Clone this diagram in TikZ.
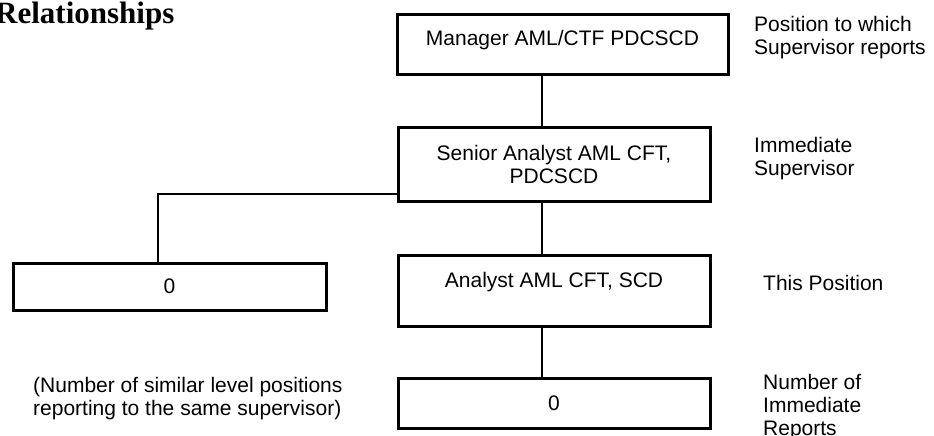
\documentclass[tikz,border=0pt]{standalone}
\usepackage{fontspec}
\setmainfont{Liberation Serif}
\newfontfamily\arialfont{Liberation Sans}
\usepackage{xcolor}
\usepackage{tikz}
\usetikzlibrary{positioning,calc}

\begin{document}
\begin{tikzpicture}[x=1pt, y=-1pt,
    posbox/.style={draw, line width=3pt, inner sep=0pt, font=\arialfont\fontsize{21}{23}\selectfont},
    toptext/.style={anchor=north, text height=31.5pt, text depth=#1},
    sidenote/.style={anchor=north west, align=left, inner sep=0pt, font=\arialfont\fontsize{21}{23}\selectfont},
    link/.style={line width=2.6pt}]
        \useasboundingbox (0,0) rectangle (934,436);
        \clip (0,0) rectangle (934,436);
        \node[anchor=base west, inner sep=0pt, font=\bfseries\fontsize{31}{35}\selectfont] (title) at (-5,24) {Relationships};

        % Chain of boxes
        \node[posbox, toptext=28.5pt, minimum width=331pt] (mgr) at (562.5,13) {Manager AML/CTF PDCSCD};
        \node[posbox, align=center, minimum width=312pt, minimum height=74pt] (sup) at (554,164) {Senior Analyst AML CFT,\\PDCSCD};
        \node[posbox, toptext=39.5pt, minimum width=312pt] (pos) at (554,254) {Analyst AML CFT, SCD};
        \node[posbox, minimum width=312pt, minimum height=50pt] (reps) at (554,403) {0};
        \node[posbox, minimum width=313pt, minimum height=47pt] (peer) at (169.5,286.5) {0};

        % Connectors
        \coordinate (spine) at (542,0);
        \coordinate (peertap) at (158,194);
        \draw[link] (mgr.south -| spine) -- (sup.north -| spine);
        \draw[link] (sup.south -| spine) -- (pos.north -| spine);
        \draw[link] (pos.south -| spine) -- (reps.north -| spine);
        \draw[link] (sup.west |- peertap) -- (peertap) -- (peertap |- peer.north);

        % Notes on the right
        \node[sidenote] (notemgr) at (754,16.5) {Position to which\\Supervisor reports};
        \node[sidenote] (notesup) at (754,137.5) {Immediate\\Supervisor};
        \node[sidenote] (notepos) at (763,275.5) {This Position};
        \node[sidenote] (notereps) at (763,374.5) {Number of\\Immediate\\Reports};
        \node[sidenote] (notepeer) at (33,377.5) {(Number of similar level positions\\reporting to the same supervisor)};
\end{tikzpicture}
\end{document}
